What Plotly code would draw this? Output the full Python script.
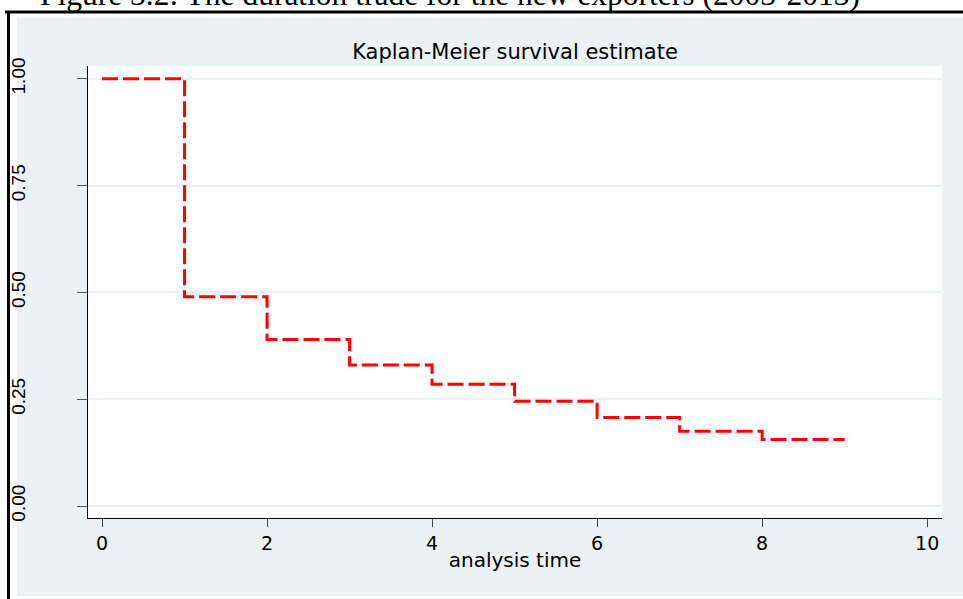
import plotly.graph_objects as go

# ---- data ----
analysis_time = [0, 1, 2, 3, 4, 5, 6, 7, 8, 9]
survival = [1.0, 0.49, 0.39, 0.33, 0.285, 0.245, 0.207, 0.175, 0.156, 0.156]
x_ticks = [0, 2, 4, 6, 8, 10]
y_ticks = [0.0, 0.25, 0.5, 0.75, 1.0]
y_tick_labels = ["0.00", "0.25", "0.50", "0.75", "1.00"]

W, H = 963, 599
L, R, T, B = 88, 942, 66, 518  # plot area in pixels


def px(p):
    return (p - L) / (R - L)


def py(q):
    return (B - q) / (B - T)


fig = go.Figure()
fig.add_trace(go.Scatter(
    x=analysis_time, y=survival, mode="lines", line_shape="hv",
    line=dict(color="#FF0000", width=3, dash="16px,5px"),
    showlegend=False, hoverinfo="skip",
))

panel = "#EAF2F3"
shapes = [
    dict(type="rect", xref="paper", yref="paper", x0=px(17), x1=px(970),
         y0=py(596), y1=py(18), fillcolor=panel, line_width=0, layer="below"),
    dict(type="rect", xref="paper", yref="paper", x0=0, x1=1, y0=0, y1=1,
         fillcolor="white", line_width=0, layer="below"),
    dict(type="line", xref="paper", yref="paper", x0=px(5), x1=px(975),
         y0=py(12), y1=py(12), line=dict(color="black", width=3)),
    dict(type="line", xref="paper", yref="paper", x0=px(8.5), x1=px(8.5),
         y0=py(605), y1=py(12), line=dict(color="black", width=3)),
]

fig.update_layout(
    width=W, height=H, autosize=False,
    margin=dict(l=L, r=W - R, t=T, b=H - B, pad=0, autoexpand=False),
    paper_bgcolor="white", plot_bgcolor="white",
    shapes=shapes,
    title=dict(text="Kaplan-Meier survival estimate", x=0.5, xref="paper",
               xanchor="center", y=1 - 51.5 / H, yref="container", yanchor="middle",
               automargin=False,
               font=dict(family="DejaVu Sans", size=21, color="black")),
    annotations=[dict(
        text="Figure 3.2: The duration trade for the new exporters (2003-2013)",
        xref="paper", yref="paper", x=px(38), y=py(14), xanchor="left", yanchor="bottom",
        showarrow=False, font=dict(family="Liberation Serif", size=31.5, color="black"))],
    xaxis=dict(range=[-0.17, 10.18], tickvals=x_ticks, showgrid=False, zeroline=False,
               showline=True, linecolor="black", linewidth=1, automargin=False,
               ticks="outside", ticklen=8, tickcolor="#444", tickwidth=1,
               tickfont=dict(family="DejaVu Sans", size=19, color="black"),
               ticklabelstandoff=0,
               title=dict(text="analysis time", standoff=0,
                          font=dict(family="DejaVu Sans", size=20, color="black"))),
    yaxis=dict(range=[-0.028, 1.030], tickvals=y_ticks, ticktext=y_tick_labels,
               showgrid=True, gridcolor="#EAF0F1", gridwidth=2, zeroline=False,
               showline=True, linecolor="black", linewidth=1, automargin=False,
               ticks="outside", ticklen=10, tickcolor="#555", tickwidth=1,
               tickangle=-90, ticklabelstandoff=44,
               tickfont=dict(family="Liberation Sans", size=19, color="black")),
)

fig.write_html("out.html")
